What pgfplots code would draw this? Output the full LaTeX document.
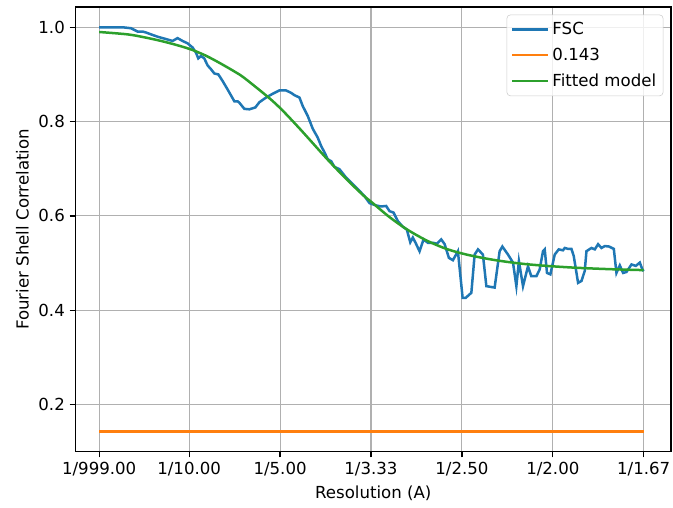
\documentclass[border=0pt]{standalone}
\usepackage{fontspec}
\setmainfont{DejaVu Sans}
\usepackage{pgfplots}
\pgfplotsset{compat=1.18}
\definecolor{c0}{HTML}{1F77B4}
\definecolor{c1}{HTML}{FF7F0E}
\definecolor{c2}{HTML}{2CA02C}
\definecolor{gridc}{HTML}{B0B0B0}
\begin{document}
\begin{tikzpicture}
\begin{axis}[
  scale only axis, width=428.8bp, height=320.2bp,
  xmin=-0.025, xmax=0.630, ymin=0.1, ymax=1.043,
  axis line style={line width=0.96bp, black},
  tick align=outside, major tick length=4.2bp,
  every tick/.style={line width=0.96bp, black},
  xtick pos=bottom, ytick pos=left,
  xtick={0.001,0.1,0.2,0.3,0.4,0.5,0.6},
  xticklabels={1/999.00,1/10.00,1/5.00,1/3.33,1/2.50,1/2.00,1/1.67},
  ytick={0.2,0.4,0.6,0.8,1.0},
  yticklabel style={/pgf/number format/.cd, fixed, fixed zerofill, precision=1},
  /pgf/number format/assume math mode=true,
  ticklabel style={font=\fontsize{12}{14}\selectfont},
  label style={font=\fontsize{12}{14}\selectfont},
  grid=major, major grid style={line width=0.8bp, gridc},
  xlabel={Resolution (A)}, ylabel={Fourier Shell Correlation},
  legend style={at={(1,1)}, anchor=north east, xshift=-5.5bp, yshift=-5.5bp,
    draw=black!20, rounded corners=2.5bp, fill=white, fill opacity=0.8, text opacity=1,
    font=\fontsize{12}{14}\selectfont, row sep=4bp, inner xsep=3bp, inner ysep=3.5bp},
  legend cell align=left,
  legend image code/.code={\draw[#1, line width=1.8bp] (0bp,0bp) -- (26bp,0bp);},
]
\addplot[c0, line width=1.8bp] coordinates {
(0.001,1.000)(0.0267,1.000)(0.0359,0.998)(0.0432,0.991)(0.0487,0.991)(0.0524,0.989)
(0.0579,0.985)(0.0652,0.980)(0.0726,0.976)(0.0817,0.971)(0.0872,0.977)(0.0927,0.971)
(0.0982,0.966)(0.1038,0.957)(0.1075,0.946)(0.1100,0.934)(0.1130,0.939)(0.1166,0.934)
(0.1203,0.919)(0.1240,0.911)(0.1277,0.902)(0.1321,0.900)(0.1368,0.886)(0.1423,0.868)
(0.1497,0.843)(0.1533,0.843)(0.1552,0.840)(0.1607,0.827)(0.1662,0.826)(0.1728,0.830)
(0.1772,0.841)(0.1846,0.851)(0.1919,0.859)(0.1992,0.866)(0.2066,0.866)(0.2121,0.861)
(0.2158,0.856)(0.2213,0.851)(0.2249,0.833)(0.2304,0.812)(0.2359,0.785)(0.2414,0.766)
(0.2452,0.748)(0.2488,0.735)(0.2524,0.720)(0.2562,0.716)(0.2598,0.704)(0.2653,0.699)
(0.2727,0.681)(0.2800,0.667)(0.2873,0.653)(0.2928,0.642)(0.2984,0.627)(0.3057,0.622)
(0.3112,0.620)(0.3167,0.621)(0.3204,0.610)(0.3248,0.607)(0.3295,0.589)(0.3350,0.577)
(0.3394,0.571)(0.3432,0.544)(0.3460,0.554)(0.3490,0.543)(0.3534,0.525)(0.3578,0.550)
(0.3626,0.543)(0.3681,0.543)(0.3725,0.541)(0.3773,0.550)(0.3810,0.540)(0.3857,0.511)
(0.3901,0.506)(0.3956,0.525)(0.4008,0.426)(0.4041,0.426)(0.4104,0.437)(0.4140,0.518)
(0.4177,0.529)(0.4231,0.518)(0.4269,0.451)(0.4360,0.448)(0.4415,0.525)(0.4445,0.535)
(0.4507,0.518)(0.4562,0.501)(0.4599,0.451)(0.4627,0.504)(0.4672,0.451)(0.4727,0.493)
(0.4763,0.472)(0.4819,0.472)(0.4855,0.486)(0.4892,0.525)(0.4911,0.529)(0.4936,0.479)
(0.4973,0.476)(0.5021,0.518)(0.5065,0.529)(0.5112,0.527)(0.5131,0.532)(0.5168,0.530)
(0.5205,0.530)(0.5230,0.515)(0.5278,0.458)(0.5315,0.462)(0.5351,0.483)(0.5370,0.525)
(0.5425,0.532)(0.5462,0.529)(0.5498,0.540)(0.5535,0.532)(0.5572,0.536)(0.5619,0.535)
(0.5671,0.530)(0.5700,0.479)(0.5737,0.495)(0.5773,0.479)(0.5810,0.481)(0.5865,0.497)
(0.5913,0.494)(0.5957,0.501)(0.5986,0.486)(0.6000,0.483)
};
\addlegendentry{FSC}
\addplot[c1, line width=1.8bp] coordinates {(0.001,0.143)(0.6,0.143)};
\addlegendentry{0.143}
\addplot[c2, line width=1.8bp, smooth, tension=0.5] coordinates {
(0.001,0.990)(0.032,0.985)(0.050,0.979)(0.069,0.971)(0.085,0.963)(0.102,0.953)
(0.117,0.941)(0.131,0.927)(0.150,0.906)(0.161,0.892)(0.188,0.850)(0.203,0.823)
(0.223,0.782)(0.252,0.720)(0.274,0.676)(0.293,0.641)(0.302,0.627)(0.320,0.598)
(0.339,0.572)(0.361,0.548)(0.383,0.530)(0.405,0.518)(0.434,0.507)(0.464,0.499)
(0.493,0.494)(0.526,0.490)(0.563,0.487)(0.600,0.485)
};
\addlegendentry{Fitted model}
\end{axis}
\path (current axis.south west) ++(-54.4bp,-40.3bp) coordinate (BL);
\path (current axis.north east) ++(1.44bp,5.04bp) coordinate (TR);
\pgfresetboundingbox
\path (BL) rectangle (TR);
\end{tikzpicture}
\end{document}
